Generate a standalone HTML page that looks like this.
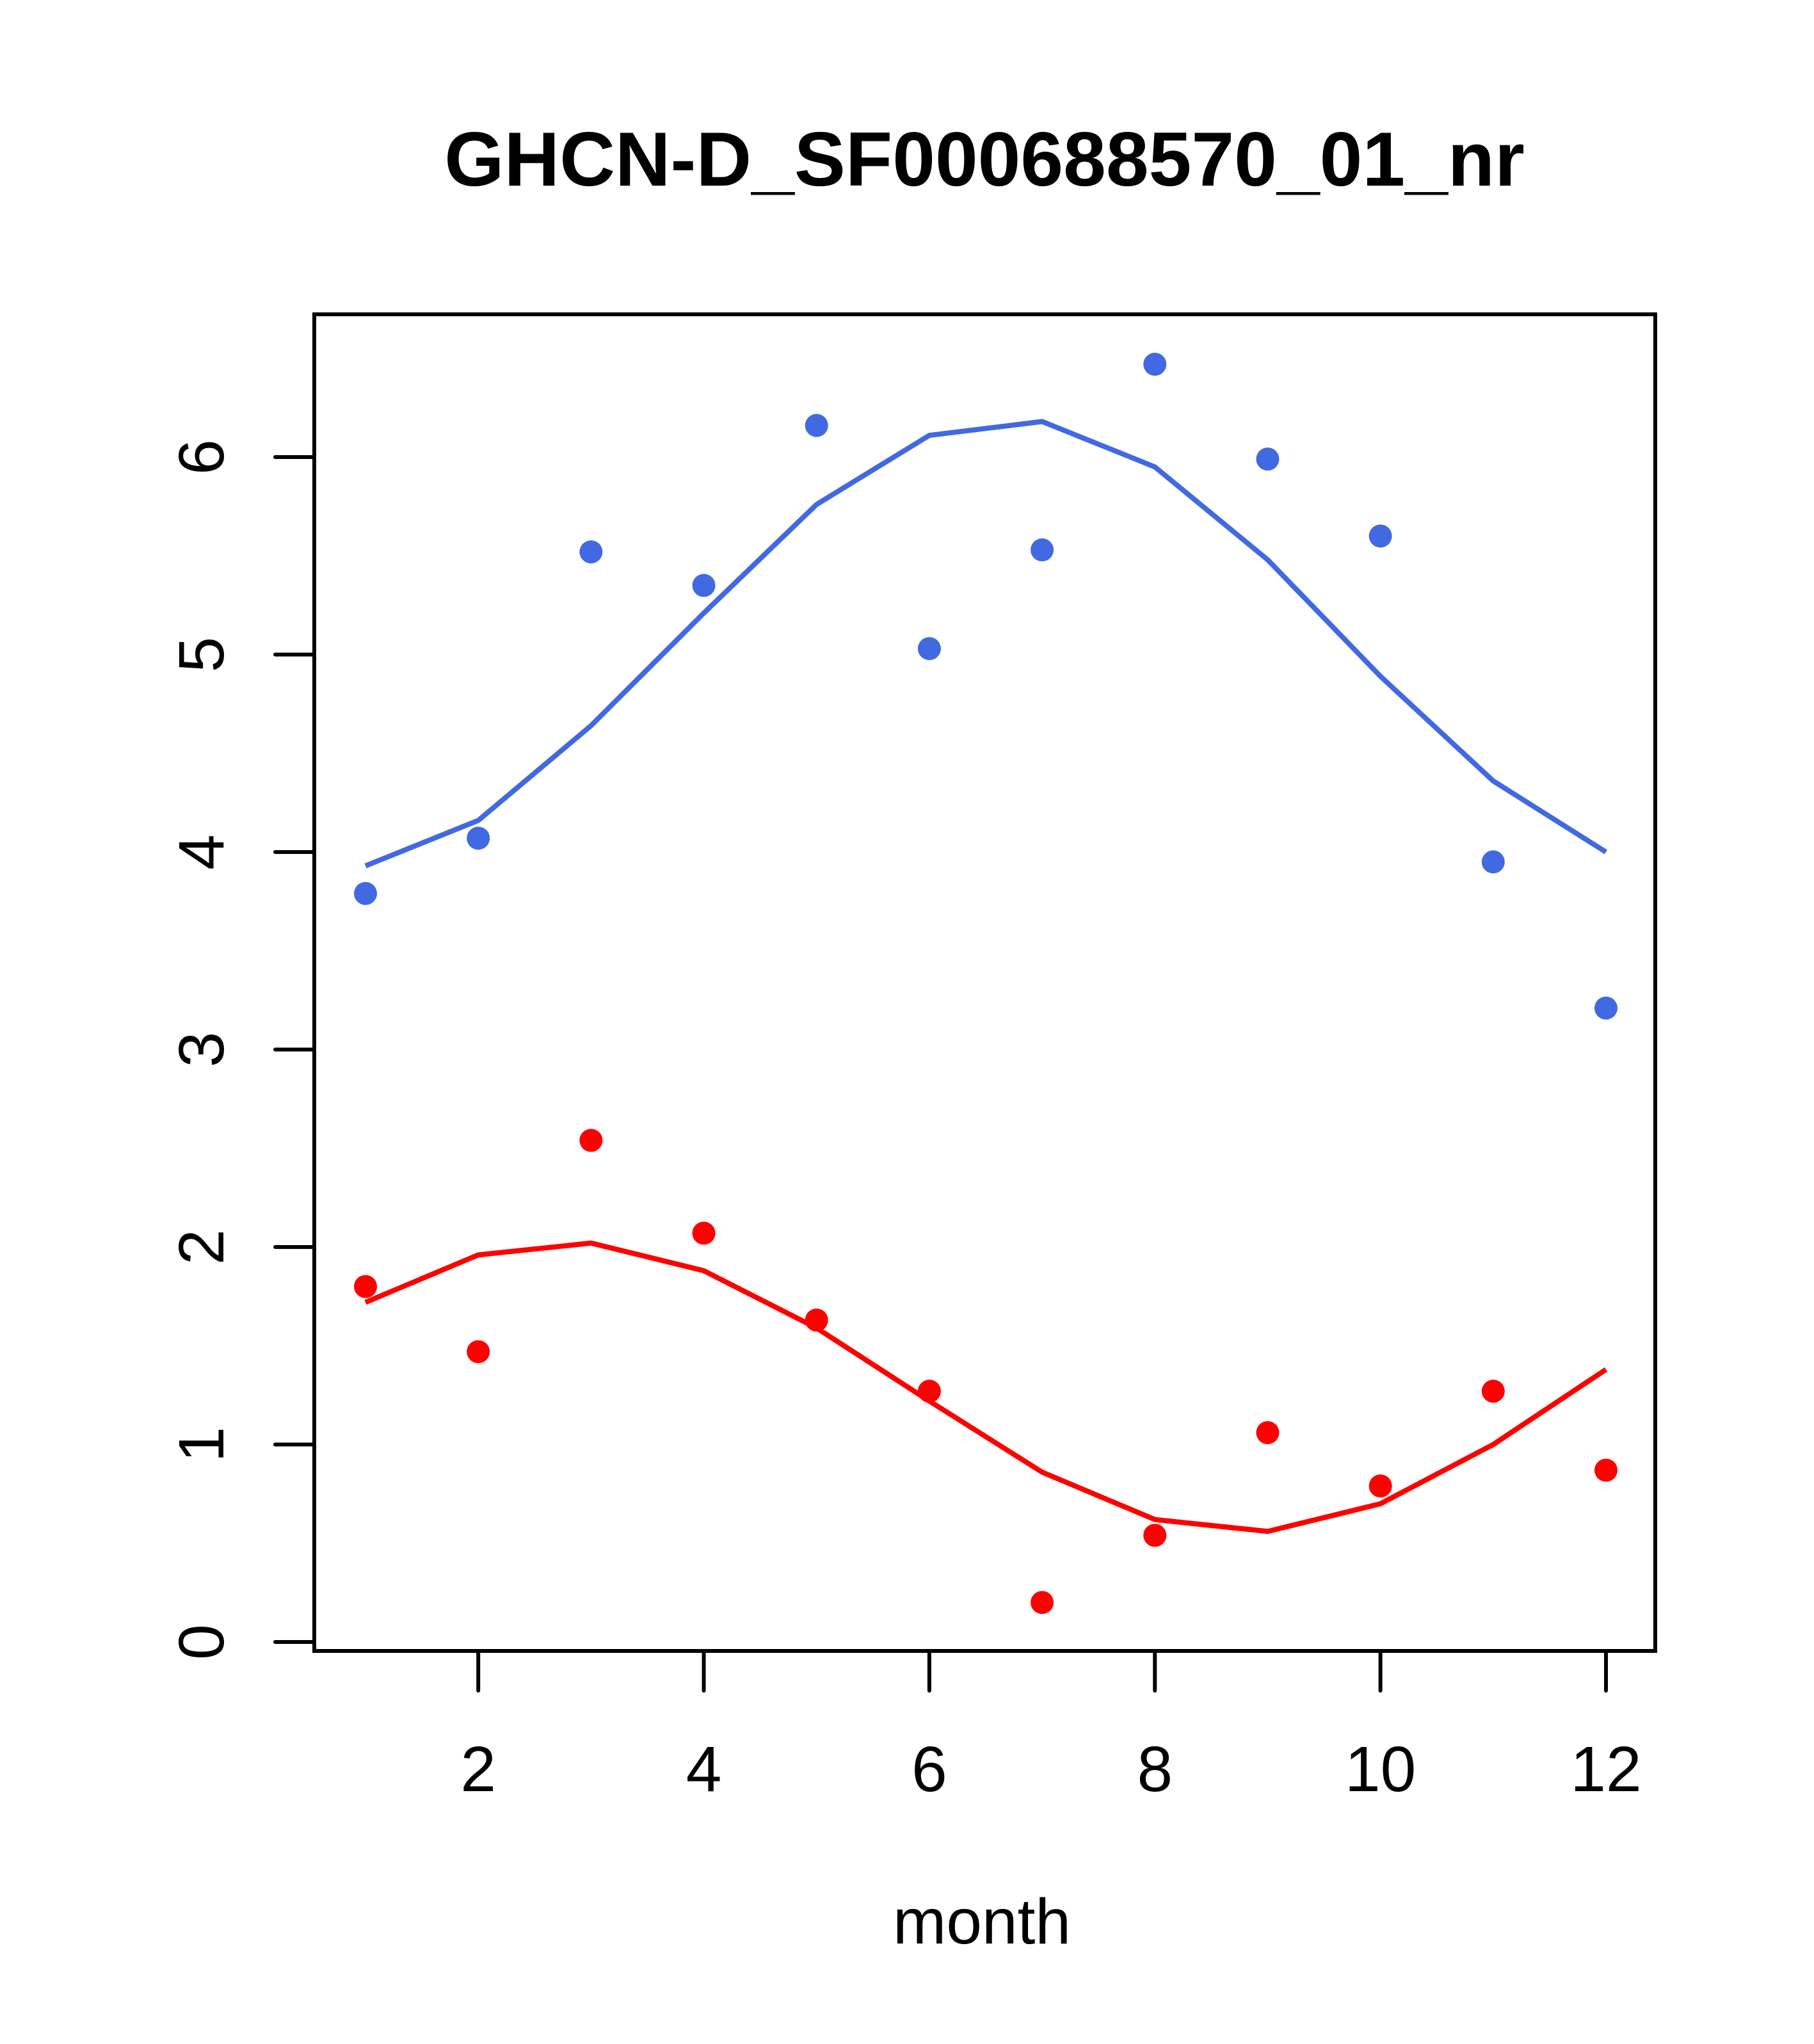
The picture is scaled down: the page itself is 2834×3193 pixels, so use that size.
<!DOCTYPE html>
<html><head><meta charset="utf-8"><style>html,body{margin:0;padding:0;background:#fff}</style></head>
<body>
<svg id="chart" width="2834" height="3188" xmlns="http://www.w3.org/2000/svg" font-family="Liberation Sans, sans-serif">
<rect width="2834" height="3188" fill="#fff"/>
<text x="1538" y="290" font-size="120" font-weight="bold" text-anchor="middle">GHCN-D_SF000688570_01_nr</text>
<rect x="491" y="491" width="2095" height="2088" fill="none" stroke="#000" stroke-width="6"/>
<text x="1534" y="3036" font-size="100" text-anchor="middle">month</text>
<g id="axes"></g>
<g id="marks"></g>
</svg>
<script>
const months = [1,2,3,4,5,6,7,8,9,10,11,12];
const bluePoints = [3.79,4.07,5.52,5.35,6.16,5.03,5.53,6.47,5.99,5.60,3.95,3.21];
const blueLine = [3.93,4.16,4.64,5.21,5.76,6.11,6.18,5.95,5.48,4.89,4.36,4.00];
const redPoints = [1.80,1.47,2.54,2.07,1.63,1.27,0.20,0.54,1.06,0.79,1.27,0.87];
const redLine = [1.72,1.96,2.02,1.88,1.59,1.22,0.86,0.62,0.56,0.70,1.00,1.38];
const xTicks = [2,4,6,8,10,12];
const yTicks = [0,1,2,3,4,5,6];

const NS = "http://www.w3.org/2000/svg";
function xs(v){ return 571 + (v-1)*(2509-571)/11; }
function ys(v){ return 2565 - v*(2565-714)/6; }
function mk(tag, attrs, parent){
  const e = document.createElementNS(NS, tag);
  for (const k in attrs) e.setAttribute(k, attrs[k]);
  parent.appendChild(e); return e;
}
const axes = document.getElementById('axes');
const marks = document.getElementById('marks');
xTicks.forEach(t=>{
  const l = mk('line',{x1:xs(t),x2:xs(t),y1:2579,y2:2641,stroke:'#000','stroke-width':6,'stroke-linecap':'round'},axes);
  
  
  const tx = mk('text',{x:xs(t),y:2798,'font-size':100,'text-anchor':'middle'},axes);
  tx.textContent = t;
  
  
});
yTicks.forEach(t=>{
  const l = mk('line',{x1:430,x2:491,y1:ys(t),y2:ys(t),stroke:'#000','stroke-width':6,'stroke-linecap':'round'},axes);
  
  
  const tx = mk('text',{x:0,y:0,'font-size':100,'text-anchor':'middle',transform:`translate(349,${ys(t)}) rotate(-90)`},axes);
  tx.textContent = t;
  
  
});
function drawLine(vals, color, name){
  const d = vals.map((v,i)=>(i?'L':'M')+xs(months[i])+','+ys(v)).join(' ');
  const p = mk('path',{d:d,fill:'none',stroke:color,'stroke-width':8},marks);
  
  
}
function drawPoints(vals, color, name){
  vals.forEach((v,i)=>{
    const c = mk('circle',{cx:xs(months[i]),cy:ys(v),r:18,fill:color},marks);
    
    
  });
}
drawLine(blueLine,'#4169E1','blue-fit-line');
drawLine(redLine,'#FF0000','red-fit-line');
drawPoints(bluePoints,'#4169E1','blue-point');
drawPoints(redPoints,'#FF0000','red-point');
</script>
</body></html>
